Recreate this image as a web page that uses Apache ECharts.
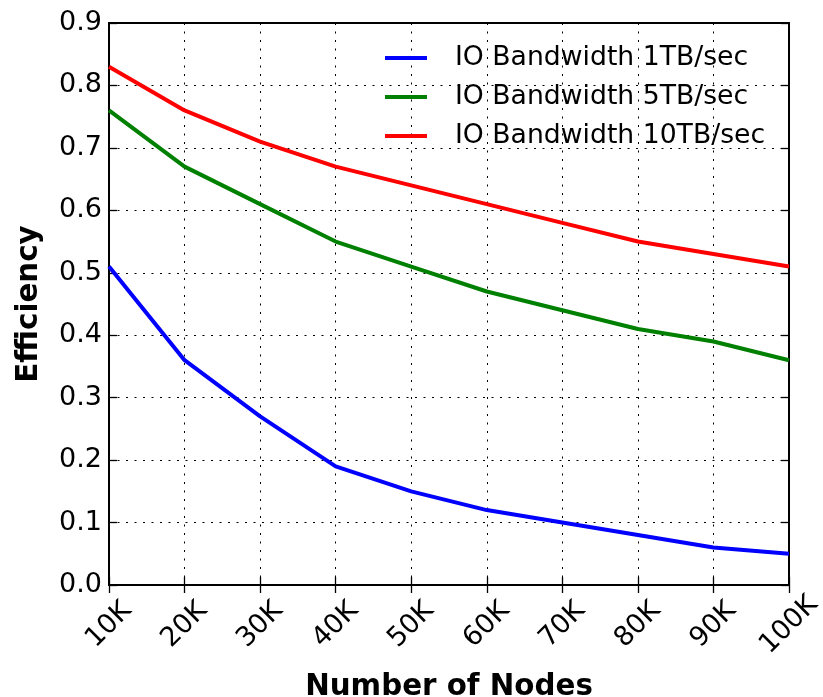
<!DOCTYPE html>
<html>
<head>
<meta charset="utf-8">
<script src="https://cdn.jsdelivr.net/npm/echarts@6/dist/echarts.min.js"></script>
<style>html,body{margin:0;padding:0;background:#fff}#c{width:823px;height:697px}</style>
</head>
<body>
<div id="c"></div>
<script>
var nodes = [10, 20, 30, 40, 50, 60, 70, 80, 90, 100];
var bw1 = [0.51, 0.36, 0.27, 0.19, 0.15, 0.12, 0.10, 0.08, 0.06, 0.05];
var bw5 = [0.76, 0.67, 0.61, 0.55, 0.51, 0.47, 0.44, 0.41, 0.39, 0.36];
var bw10 = [0.83, 0.76, 0.71, 0.67, 0.64, 0.61, 0.58, 0.55, 0.53, 0.51];
var seriesNames = ['IO Bandwidth 1TB/sec', 'IO Bandwidth 5TB/sec', 'IO Bandwidth 10TB/sec'];
var seriesColors = ['#0000ff', '#008000', '#ff0000'];

function pairs(ys) { return nodes.map(function (x, i) { return [x, ys[i]]; }); }
var FONT = 'DejaVu Sans';
var gridDash = { color: '#000', width: 1, type: [2, 6.5] };

function legendAt(name, top) {
  return {
    data: [{ name: name, icon: 'rect' }],
    left: 385, top: top, orient: 'vertical',
    itemWidth: 42, itemHeight: 4, padding: 0,
    textStyle: { fontFamily: FONT, fontSize: 26.67, color: '#000', padding: [0, 0, 0, 23], lineHeight: 30 }
  };
}

var chart = echarts.init(document.getElementById('c'), null, { renderer: 'canvas' });
chart.setOption({
  animation: false,
  backgroundColor: '#fff',
  grid: { left: 109, top: 23, right: 34, bottom: 112, containLabel: false, outerBoundsMode: 'none',
    show: true, borderColor: '#000', borderWidth: 2, backgroundColor: 'transparent' },
  legend: [legendAt(seriesNames[0], 43), legendAt(seriesNames[1], 82), legendAt(seriesNames[2], 121)],
  xAxis: [{
    type: 'value', min: 10, max: 100, interval: 10,
    name: 'Number of Nodes', nameLocation: 'middle', nameGap: 88,
    nameTextStyle: { fontFamily: FONT, fontSize: 29.33, fontWeight: 'bold', color: '#000' },
    axisLine: { show: true, lineStyle: { color: '#000', width: 2 } },
    axisTick: { show: true, inside: true, length: 8, lineStyle: { color: '#000', width: 1.3 } },
    axisLabel: { fontFamily: FONT, fontSize: 27, color: '#000', rotate: 45, align: 'center', verticalAlign: 'middle', margin: 40,
      formatter: function (v) { return v + 'K'; } },
    splitLine: { show: true, lineStyle: gridDash }
  }, {
    type: 'value', min: 10, max: 100, interval: 10, position: 'top',
    axisLine: { show: true, lineStyle: { color: '#000', width: 2 } },
    axisTick: { show: true, inside: true, length: 8, lineStyle: { color: '#000', width: 1.3 } },
    axisLabel: { show: false }, splitLine: { show: false }
  }],
  yAxis: [{
    type: 'value', min: 0, max: 0.9, interval: 0.1,
    name: 'Efficiency', nameLocation: 'middle', nameGap: 65,
    nameTextStyle: { fontFamily: FONT, fontSize: 29.33, fontWeight: 'bold', color: '#000' },
    axisLine: { show: true, lineStyle: { color: '#000', width: 2 } },
    axisTick: { show: true, inside: true, length: 8, lineStyle: { color: '#000', width: 1.3 } },
    axisLabel: { fontFamily: FONT, fontSize: 27, color: '#000', margin: 7,
      formatter: function (v) { return v.toFixed(1); } },
    splitLine: { show: true, lineStyle: gridDash }
  }, {
    type: 'value', min: 0, max: 0.9, interval: 0.1, position: 'right',
    axisLine: { show: true, lineStyle: { color: '#000', width: 2 } },
    axisTick: { show: true, inside: true, length: 8, lineStyle: { color: '#000', width: 1.3 } },
    axisLabel: { show: false }, splitLine: { show: false }
  }],
  series: [bw1, bw5, bw10].map(function (ys, i) {
    return {
      name: seriesNames[i], type: 'line', data: pairs(ys),
      showSymbol: false, symbol: 'none', z: 3, clip: false,
      lineStyle: { color: seriesColors[i], width: 4 },
      itemStyle: { color: seriesColors[i] }
    };
  })
});
</script>
</body>
</html>
